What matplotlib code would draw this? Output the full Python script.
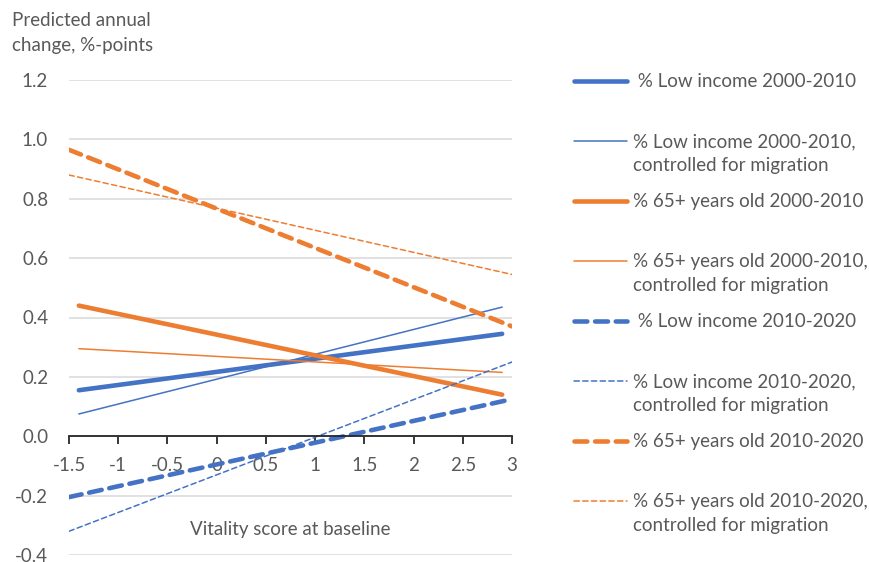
import matplotlib
matplotlib.use("Agg")
import matplotlib.pyplot as plt
from matplotlib.lines import Line2D

plt.rcParams['font.family'] = ['Lato', 'DejaVu Sans']
plt.rcParams['axes.unicode_minus'] = False

# data (line end points)
x_solid = [-1.4, 2.9]
x_dash = [-1.5, 3.0]

low_00_10 = [0.155, 0.345]
low_00_10_ctrl = [0.075, 0.435]
old_00_10 = [0.44, 0.14]
old_00_10_ctrl = [0.295, 0.215]
low_10_20 = [-0.205, 0.125]
low_10_20_ctrl = [-0.32, 0.25]
old_10_20 = [0.965, 0.37]
old_10_20_ctrl = [0.88, 0.545]

labels = [" % Low income 2000-2010",
          "% Low income 2000-2010,\ncontrolled for migration",
          "% 65+ years old 2000-2010",
          "% 65+ years old 2000-2010,\ncontrolled for migration",
          " % Low income 2010-2020",
          "% Low income 2010-2020,\ncontrolled for migration",
          "% 65+ years old 2010-2020",
          "% 65+ years old 2010-2020,\ncontrolled for migration"]

x_ticks = [-1.5, -1, -0.5, 0, 0.5, 1, 1.5, 2, 2.5, 3]
x_ticklabels = ["-1.5", "-1", "-0.5", "0", "0.5", "1", "1.5", "2", "2.5", "3"]
y_ticks = [-0.4, -0.2, 0.0, 0.2, 0.4, 0.6, 0.8, 1.0, 1.2]
y_ticklabels = ["-0.4", "-0.2", "0.0", "0.2", "0.4", "0.6", "0.8", "1.0", "1.2"]

blue = '#4472C4'
orange = '#ED7D31'
text_col = '#595959'
thick = 3.3
thin = 1.1
fs = 13.5

fig = plt.figure(figsize=(8.69, 5.62), dpi=100)
ax = fig.add_axes([69 / 869, 1 - 555 / 562, 443 / 869, 475 / 562])

series = [
    (x_solid, low_00_10, blue, thick, None),
    (x_solid, low_00_10_ctrl, blue, thin, None),
    (x_solid, old_00_10, orange, thick, None),
    (x_solid, old_00_10_ctrl, orange, thin, None),
    (x_dash, low_10_20, blue, thick, (2.8, 1.7)),
    (x_dash, low_10_20_ctrl, blue, thin, (3.5, 2.2)),
    (x_dash, old_10_20, orange, thick, (2.8, 1.7)),
    (x_dash, old_10_20_ctrl, orange, thin, (3.5, 2.2)),
]

for xs, ys, col, lw, dash in series:
    if dash is None:
        ax.plot(xs, ys, color=col, lw=lw, solid_capstyle='round')
    else:
        ax.plot(xs, ys, color=col, lw=lw, dashes=dash, dash_capstyle='round')

ax.set_xlim(-1.5, 3)
ax.set_ylim(-0.4, 1.2)
ax.set_xticks(x_ticks)
ax.set_xticklabels(x_ticklabels)
ax.set_yticks(y_ticks)
ax.set_yticklabels(y_ticklabels)

for s in ['left', 'right', 'top']:
    ax.spines[s].set_visible(False)
ax.spines['bottom'].set_position(('data', 0))
ax.spines['bottom'].set_color('#262626')
ax.spines['bottom'].set_linewidth(1.3)
ax.tick_params(axis='x', direction='out', length=6, width=1.3, color='#262626',
               pad=9, labelsize=fs, labelcolor=text_col)
ax.tick_params(axis='y', length=0, pad=15, labelsize=fs, labelcolor=text_col)
ax.yaxis.grid(True, color='#D9D9D9', lw=1.1)
ax.set_axisbelow(True)

ax.text(0.5, 0.053, "Vitality score at baseline", transform=ax.transAxes,
        ha='center', va='center', fontsize=fs, color=text_col)

fig.text(12 / 869, 1 - 12 / 562, "Predicted annual\nchange, %-points",
         ha='left', va='top', fontsize=fs, color=text_col, linespacing=1.55)

# legend, built by hand so the line sits next to the first text row
for i, (xs, ys, col, lw, dash) in enumerate(series):
    yp = 1 - (81 + 60 * i) / 562
    ln = Line2D([574 / 869, 627 / 869], [yp, yp], color=col, lw=lw,
                solid_capstyle='round', dash_capstyle='round')
    if dash is not None:
        ln.set_dashes(dash)
    fig.add_artist(ln)
    fig.text(633 / 869, yp + 8 / 562, labels[i], ha='left', va='top',
             fontsize=fs, color=text_col, linespacing=1.5)

fig.savefig("out.png", dpi=100)
